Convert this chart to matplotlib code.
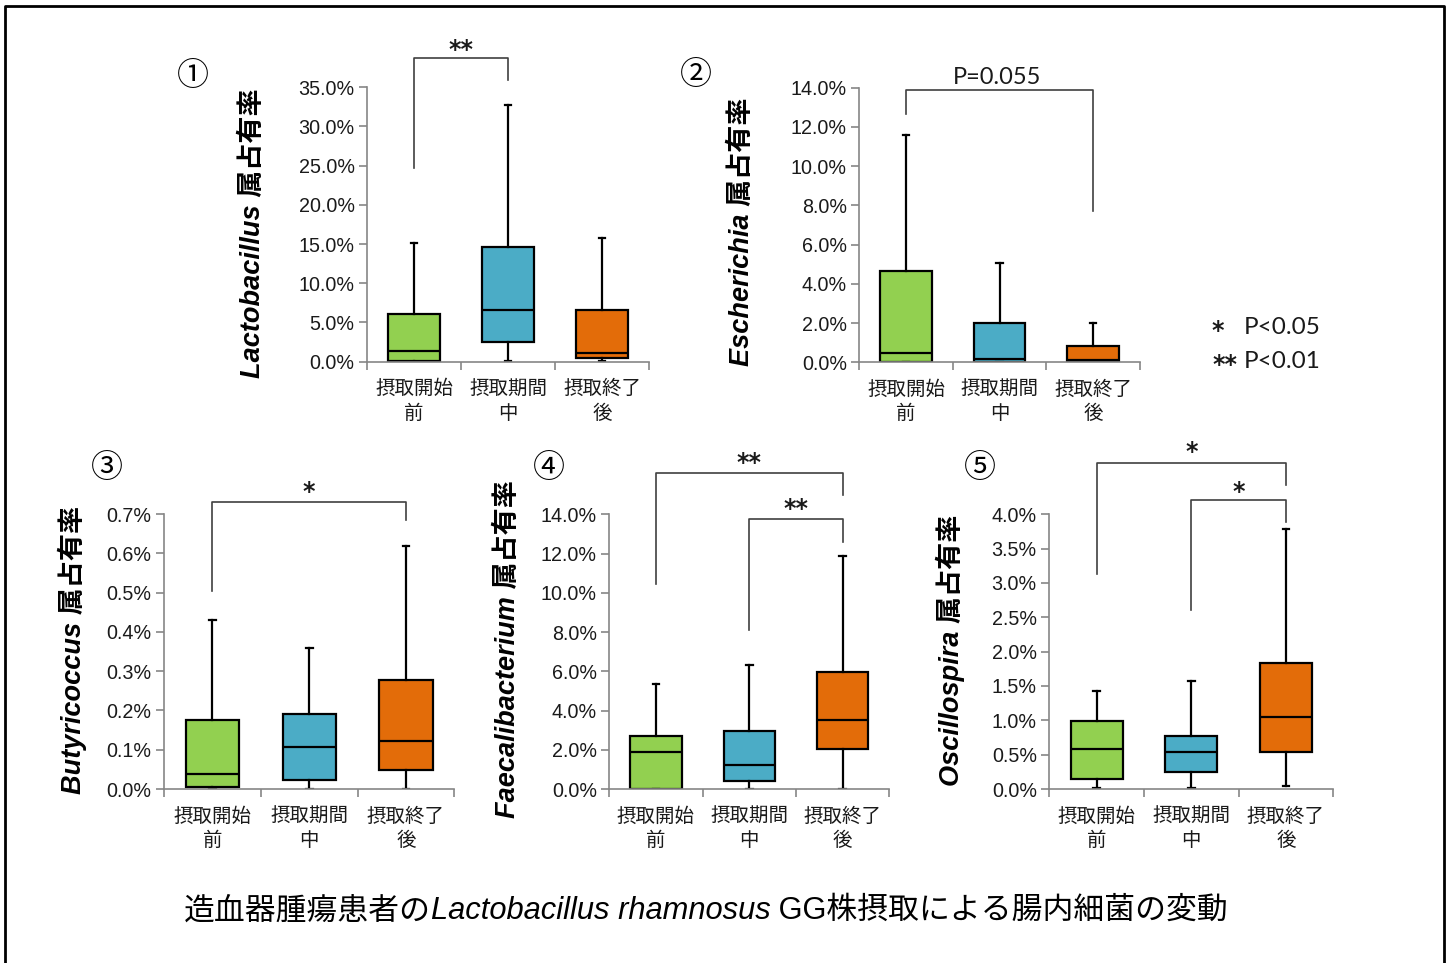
import matplotlib
matplotlib.use('Agg')
import matplotlib.pyplot as plt
from matplotlib.lines import Line2D
from matplotlib.transforms import offset_copy
import numpy as np

W, H, DPI = 1453, 963, 100

# ---------------- data (percent) ----------------
groups = ['摂取開始\n前', '摂取期間\n中', '摂取終了\n後']
box_colors = ['#92D050', '#4BACC6', '#E36C09']
stat_keys = ['whislo', 'q1', 'med', 'q3', 'whishi']

# each list: whisker low, Q1, median, Q3, whisker high  (%)
lacto_before = [0.0, 0.13, 1.4, 6.1, 15.1]
lacto_during = [0.1, 2.5, 6.6, 14.6, 32.7]
lacto_after = [0.1, 0.47, 1.07, 6.6, 15.8]

esch_before = [0.0, 0.0, 0.49, 4.65, 11.57]
esch_during = [0.0, 0.03, 0.15, 2.02, 5.05]
esch_after = [0.0, 0.03, 0.1, 0.83, 2.02]

buty_before = [0.0, 0.006, 0.038, 0.176, 0.430]
buty_during = [0.0, 0.023, 0.106, 0.191, 0.358]
buty_after = [0.0, 0.049, 0.122, 0.277, 0.618]

faec_before = [0.0, 0.0, 1.89, 2.72, 5.35]
faec_during = [0.0, 0.42, 1.24, 2.94, 6.32]
faec_after = [0.0, 2.02, 3.50, 5.96, 11.88]

osci_before = [0.01, 0.141, 0.587, 0.995, 1.427]
osci_during = [0.02, 0.248, 0.543, 0.776, 1.577]
osci_after = [0.04, 0.534, 1.049, 1.835, 3.79]

genus_names = ['Lactobacillus', 'Escherichia', 'Butyricoccus', 'Faecalibacterium', 'Oscillospira']
panel_marks = ['①', '②', '③', '④', '⑤']
y_max = [35.0, 14.0, 0.7, 14.0, 4.0]
y_step = [5.0, 2.0, 0.1, 2.0, 0.5]

# brackets: (group_i, group_j, top, left_end, right_end, label, label_y) in data units
brackets = [
    [(1, 2, 38.7, 24.7, 35.9, '**', 40.6)],
    [(1, 3, 13.89, 12.65, 7.73, 'P=0.055', 14.0)],
    [(1, 3, 0.7297, 0.5048, 0.6838, '*', 0.774)],
    [(1, 3, 16.09, 10.45, 14.97, '**', 16.97), (2, 3, 13.74, 8.10, 12.60, '**', 14.64)],
    [(1, 3, 4.74, 3.13, 4.42, '*', 5.01), (2, 3, 4.21, 2.60, 3.89, '*', 4.43)],
]

# ---------------- layout (pixels) ----------------
# left, right, bottom(y of 0), top(y of max)
axes_px = [
    (367.0, 649.0, 361.7, 87.3),
    (859.3, 1140.0, 362.3, 87.7),
    (164.0, 454.3, 789.0, 514.0),
    (609.3, 889.3, 789.0, 514.3),
    (1049.3, 1333.3, 789.0, 514.3),
]
ylabel_px = [(253, 233), (742, 232), (72, 650), (508, 649), (950, 650)]
mark_px = [(193, 76), (696, 75), (107, 468), (549, 468), (980, 468)]

LATIN = 'Liberation Sans'
CJK = 'Noto Sans CJK JP'
STAR = 'DejaVu Sans'
STAR_SIZE = 17
STAR_DROP = 0.59 * STAR_SIZE * DPI / 72  # pixels from star centre down to baseline
SPINE = '#868686'
TXT = '#1a1a1a'

fig = plt.figure(figsize=(W / DPI, H / DPI), dpi=DPI)
fig.patch.set_facecolor('white')

def fx(x):
    return x / W

def fy(y):
    return 1 - y / H

all_data = [
    [lacto_before, lacto_during, lacto_after],
    [esch_before, esch_during, esch_after],
    [buty_before, buty_during, buty_after],
    [faec_before, faec_during, faec_after],
    [osci_before, osci_during, osci_after],
]

for p in range(5):
    l, r, b, t = axes_px[p]
    ax = fig.add_axes([fx(l), fy(b), (r - l) / W, (b - t) / H])
    stats = []
    for g in range(3):
        d = dict(zip(stat_keys, all_data[p][g]))
        d['fliers'] = []
        stats.append(d)
    bp = ax.bxp(stats, positions=[1, 2, 3], widths=0.55, patch_artist=True,
                showfliers=False, capwidths=0.07,
                boxprops=dict(edgecolor='black', linewidth=1.6),
                medianprops=dict(color='black', linewidth=1.6),
                whiskerprops=dict(color='black', linewidth=1.6),
                capprops=dict(color='black', linewidth=1.6))
    for patch, c in zip(bp['boxes'], box_colors):
        patch.set_facecolor(c)
    ax.set_xlim(0.5, 3.5)
    ax.set_ylim(0, y_max[p])
    for s in ['top', 'right']:
        ax.spines[s].set_visible(False)
    for s in ['left', 'bottom']:
        ax.spines[s].set_color(SPINE)
        ax.spines[s].set_linewidth(1.2)
    ticks = np.arange(0, y_max[p] + y_step[p] / 2, y_step[p])
    ax.set_yticks(ticks)
    ax.set_yticklabels([f'{v:.1f}%' for v in ticks], fontfamily=LATIN, fontsize=14.2, color=TXT)
    ax.tick_params(axis='y', direction='out', length=6, width=1.2, color=SPINE, pad=3)
    ax.set_xticks([1, 2, 3])
    ax.set_xticklabels(groups, fontfamily=CJK, fontsize=14, color=TXT, linespacing=1.2)
    ax.tick_params(axis='x', which='major', length=0, pad=12)
    ax.set_xticks([0.5, 1.5, 2.5, 3.5], minor=True)
    ax.tick_params(axis='x', which='minor', direction='out', length=6, width=1.2, color=SPINE)
    ax.set_facecolor('none')

    star_tr = offset_copy(ax.transData, fig=fig, x=0, y=-STAR_DROP, units='dots')
    # significance brackets
    for (gi, gj, top, le, re_, lab, ly) in brackets[p]:
        ln = Line2D([gi, gi, gj, gj], [le, top, top, re_], color='#404040', linewidth=1.2,
                    clip_on=False)
        ax.add_line(ln)
        if lab.startswith('P'):
            ax.text((gi + gj) / 2 - 0.03, ly, lab, ha='center', va='bottom', fontfamily='Lato',
                    fontsize=17, color=TXT, clip_on=False)
        else:
            ax.text((gi + gj) / 2, ly, lab, ha='center', va='baseline', fontfamily=STAR,
                    fontweight='bold', fontsize=STAR_SIZE, color=TXT,
                    clip_on=False, transform=star_tr)

    # y label
    xl, yl = ylabel_px[p]
    fig.text(fx(xl), fy(yl), genus_names[p] + ' 属占有率', rotation=90, ha='center', va='center',
             fontfamily=[LATIN, CJK], fontstyle='italic', fontweight='bold', fontsize=19.5,
             color='black')
    # panel mark
    mx, my = mark_px[p]
    fig.text(fx(mx), fy(my), panel_marks[p], ha='center', va='center', fontfamily=[CJK, 'DejaVu Sans'],
             fontsize=23, color='black')

# legend for significance
fig_star_tr = offset_copy(fig.transFigure, fig=fig, x=0, y=-STAR_DROP, units='dots')
fig.text(fx(1218), fy(324), '*', ha='center', va='baseline', fontfamily=STAR, fontweight='bold',
         fontsize=STAR_SIZE, color=TXT, transform=fig_star_tr)
fig.text(fx(1244), fy(328), 'P<0.05', ha='left', va='center', fontfamily='Lato', fontsize=17.5, color=TXT)
fig.text(fx(1225), fy(358), '**', ha='center', va='baseline', fontfamily=STAR, fontweight='bold',
         fontsize=STAR_SIZE, color=TXT, transform=fig_star_tr)
fig.text(fx(1244), fy(362), 'P<0.01', ha='left', va='center', fontfamily='Lato', fontsize=17.5, color=TXT)

# title made of runs with different styles
runs = [('造血器腫瘍患者の', dict(fontfamily=[CJK], fontstyle='normal')),
        ('Lactobacillus rhamnosus', dict(fontfamily=[LATIN], fontstyle='italic')),
        (' GG株摂取による腸内細菌の変動', dict(fontfamily=[LATIN, CJK], fontstyle='normal'))]
title_cx, title_cy = 706, 911
renderer = fig.canvas.get_renderer()
texts = []
widths = []
for s, kw in runs:
    tt = fig.text(0, fy(title_cy), s, ha='left', va='center', fontsize=22.2, color='black', **kw)
    bb = tt.get_window_extent(renderer=renderer)
    texts.append(tt)
    widths.append(bb.width)
total = sum(widths)
x0 = title_cx - total / 2
for tt, w in zip(texts, widths):
    tt.set_x(fx(x0))
    x0 += w

# outer frame
frame = Line2D([fx(4.5), fx(4.5), fx(1444), fx(1444)], [0, fy(6), fy(6), 0],
               transform=fig.transFigure, color='black', linewidth=2)
fig.add_artist(frame)

fig.savefig('out.png', dpi=DPI)
